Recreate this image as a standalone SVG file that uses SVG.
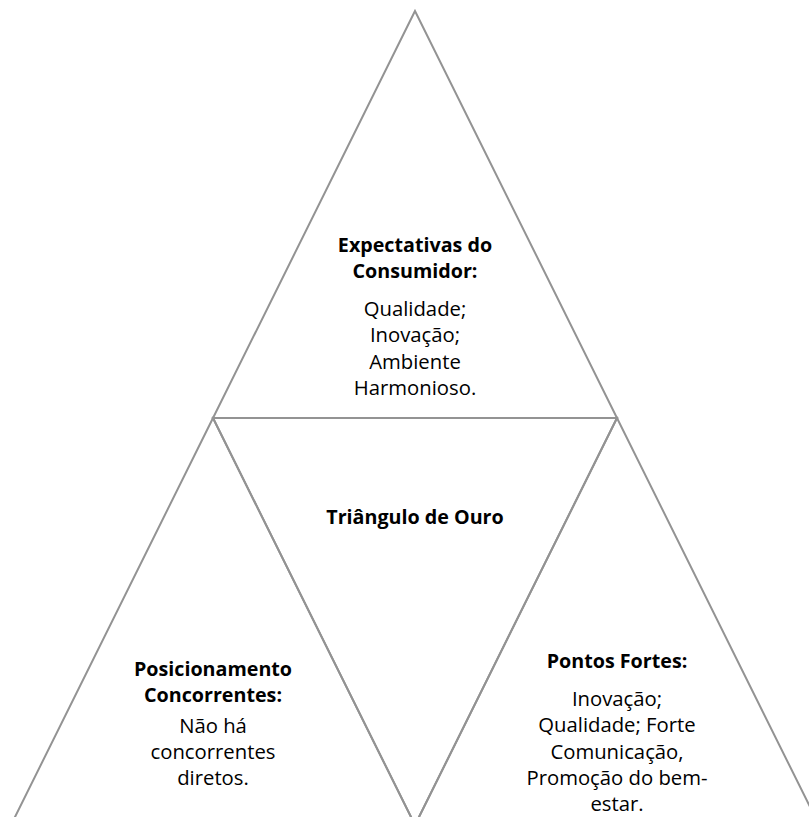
<svg xmlns="http://www.w3.org/2000/svg" width="809" height="817" viewBox="0 0 809 817">
<style>
.edge{fill:none;stroke:#939393;stroke-width:2;stroke-linejoin:miter}
text{font-family:"Open Sans","Noto Sans","Liberation Sans",sans-serif;fill:#000;text-anchor:middle}
.h{font-weight:bold;font-size:19.7px}
.b{font-size:20.3px}
</style>
<rect width="809" height="817" fill="#fff"/>
<g id="connectors">
<polygon class="edge" points="415,11 213,418 617,418"/>
<polygon class="edge" points="213,418 11,825 415,825"/>
<polygon class="edge" points="213,418 617,418 415,825"/>
<polygon class="edge" points="617,418 415,825 819,825"/>
</g>
<g id="top">
<text class="h" x="415" y="252">Expectativas do</text>
<text class="h" x="415" y="278">Consumidor:</text>
<text class="b" x="415" y="316">Qualidade;</text>
<text class="b" x="415" y="342">Inovação;</text>
<text class="b" x="415" y="369">Ambiente</text>
<text class="b" x="415" y="395">Harmonioso.</text>
</g>
<g id="center">
<text class="h" x="415" y="524">Triângulo de Ouro</text>
</g>
<g id="left">
<text class="h" x="213" y="676">Posicionamento</text>
<text class="h" x="213" y="702">Concorrentes:</text>
<text class="b" x="213" y="733">Não há</text>
<text class="b" x="213" y="759">concorrentes</text>
<text class="b" x="213" y="785">diretos.</text>
</g>
<g id="right">
<text class="h" x="617" y="668">Pontos Fortes:</text>
<text class="b" x="617" y="706">Inovação;</text>
<text class="b" x="617" y="732">Qualidade; Forte</text>
<text class="b" x="617" y="759">Comunicação,</text>
<text class="b" x="617" y="785">Promoção do bem-</text>
<text class="b" x="617" y="811">estar.</text>
</g>
</svg>
